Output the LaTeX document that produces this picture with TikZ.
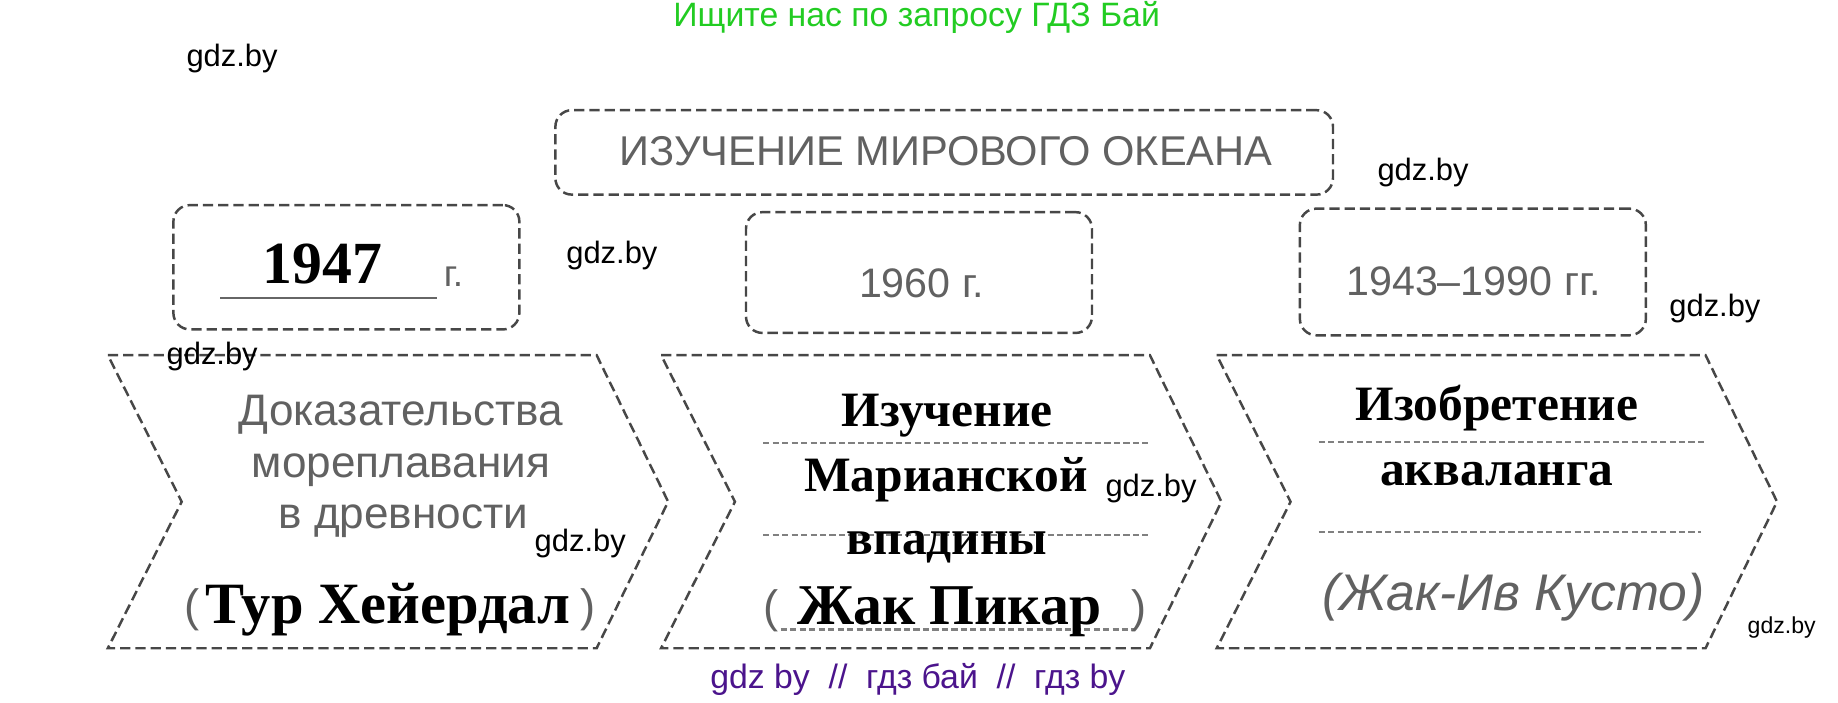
\documentclass[tikz,border=0pt]{standalone}
\usepackage{fontspec}
\setmainfont{Liberation Serif}
\newfontfamily\wmfont{Liberation Sans}
\definecolor{wmgreen}{RGB}{34,204,34}
\definecolor{wmpurple}{RGB}{75,20,140}
\begin{document}
\begin{tikzpicture}[x=0.01cm,y=-0.01cm]
			\tikzset{wm/.style = {font=\wmfont\fontsize{7.5}{9}\selectfont, inner sep=0pt}}
			\tikzset{pencil/.style = {font=\wmfont\fontsize{10.5}{12}\selectfont, text=black!62, inner sep=0pt, anchor=base}}
			\tikzset{typed/.style = {font=\bfseries\fontsize{12}{14}\selectfont, inner sep=0pt, anchor=base}}
			\tikzset{frame/.style = {draw=black!72, line width=.6pt, dash pattern=on 2.5pt off 1.2pt}}
			\tikzset{datebox/.style = {frame, rounded corners=4pt, minimum height=1.06cm, minimum width=2.95cm, inner sep=0pt}}
			\tikzset{ruling/.style = {draw=black!50, line width=.5pt, dash pattern=on 1.5pt off .8pt}}
			\useasboundingbox (0,0) rectangle (1568,599);
			% Title and date boxes
			\node[datebox, minimum width=6.63cm, minimum height=.72cm] (T) at (805.5,130) {};
			\node[pencil, font=\wmfont\fontsize{10.1}{12}\selectfont] (t) at (807,141) {ИЗУЧЕНИЕ МИРОВОГО ОКЕАНА};
			\node[datebox] (D1) at (295.5,228) {};
			\node[datebox, minimum height=1.03cm] (D2) at (784,232.5) {};
			\node[datebox, minimum height=1.08cm] (D3) at (1256.5,232) {};
			\node[typed, font=\bfseries\fontsize{14.5}{16}\selectfont] (d1) at (275,242) {1947};
			\draw[black!60, line width=.5pt] (188,254) -- (373,254);
			\node[pencil, font=\wmfont\fontsize{9}{10}\selectfont] (g1) at (387,244) {г.};
			\node[pencil, font=\wmfont\fontsize{10}{12}\selectfont] (d2) at (786,254) {1960 г.};
			\node[pencil, font=\wmfont\fontsize{10}{12}\selectfont] (d3) at (1257,252) {1943–1990 гг.};
			% Draw chevrons
			\draw[frame] (92,303) -- ++(417,0) -- ++(61,125) -- ++(-61,125) -- ++(-417,0) -- ++(63,-125) -- cycle;
			\draw[frame] (564,303) -- ++(417,0) -- ++(61,125) -- ++(-61,125) -- ++(-417,0) -- ++(63,-125) -- cycle;
			\draw[frame] (1038,303) -- ++(417,0) -- ++(61,125) -- ++(-61,125) -- ++(-417,0) -- ++(63,-125) -- cycle;
			% First chevron
			\node[pencil, font=\wmfont\fontsize{10.7}{12}\selectfont] (a1) at (342,363) {Доказательства};
			\node[pencil, font=\wmfont\fontsize{10.7}{12}\selectfont] (a2) at (342,407) {мореплавания};
			\node[pencil, font=\wmfont\fontsize{10.7}{12}\selectfont] (a3) at (344,451) {в древности};
			\node[pencil, font=\wmfont\fontsize{11}{12}\selectfont] (ap) at (164,530) {(};
			\node[pencil, font=\wmfont\fontsize{11}{12}\selectfont] (aq) at (502,530) {)};
			\node[typed, font=\bfseries\fontsize{14.2}{16}\selectfont] (a4) at (331,532) {Тур Хейердал};
			% Second chevron
			\draw[ruling] (651,378) -- (979,378);
			\draw[ruling] (651,456) -- (979,456);
			\draw[ruling] (666,537) -- (968,537);
			\node[typed] (b1) at (808,363.5) {Изучение};
			\node[typed] (b2) at (807,419) {Марианской};
			\node[typed] (b3) at (808,473) {впадины};
			\node[pencil, font=\wmfont\fontsize{11}{12}\selectfont] (bp) at (658,531) {(};
			\node[pencil, font=\wmfont\fontsize{11}{12}\selectfont] (bq) at (972,531) {)};
			\node[typed, font=\bfseries\fontsize{14}{16}\selectfont] (b4) at (810,533) {Жак Пикар};
			% Third chevron
			\draw[ruling] (1125,377) -- (1456,377);
			\draw[ruling] (1125,454) -- (1451,454);
			\node[typed] (c1) at (1277,359) {Изобретение};
			\node[typed] (c2) at (1277,414.5) {акваланга};
			\node[pencil, font=\wmfont\itshape\fontsize{12.5}{14}\selectfont] (c3) at (1291,521) {(Жак-Ив Кусто)};
			% Watermarks
			\node[wm, font=\wmfont\fontsize{8.2}{10}\selectfont, text=wmgreen] (s) at (782,15) {Ищите нас по запросу ГДЗ Бай};
			\node[wm, font=\wmfont\fontsize{8.2}{10}\selectfont, text=wmpurple] (u) at (783,580) {gdz by\ \ //\ \ гдз бай\ \ //\ \ гдз by};
			\node[wm] (w1) at (198,50) {gdz.by};
			\node[wm] (w2) at (1214,147) {gdz.by};
			\node[wm] (w3) at (522,218) {gdz.by};
			\node[wm] (w4) at (181,304) {gdz.by};
			\node[wm] (w5) at (1463,263) {gdz.by};
			\node[wm] (w6) at (982,417) {gdz.by};
			\node[wm] (w7) at (495,464) {gdz.by};
			\node[wm, font=\wmfont\fontsize{5.6}{7}\selectfont] (w8) at (1520,535) {gdz.by};
		\end{tikzpicture}
\end{document}
